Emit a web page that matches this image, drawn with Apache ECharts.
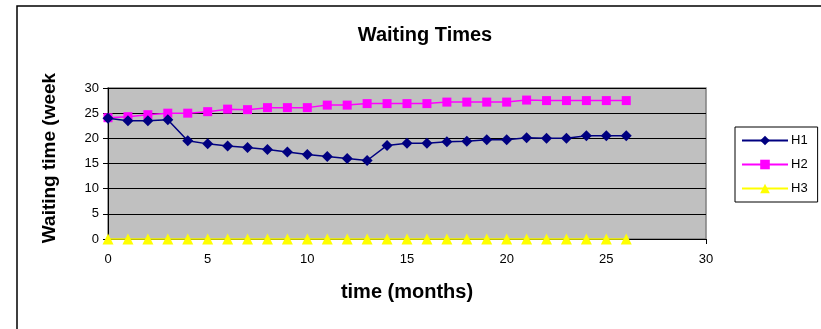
<!DOCTYPE html>
<html>
<head>
<meta charset="utf-8">
<script src="https://cdn.jsdelivr.net/npm/echarts@6/dist/echarts.min.js"></script>
<style>
  html, body { margin: 0; padding: 0; background: #fff; }
  #chart { width: 821px; height: 329px; }
</style>
</head>
<body>
<div id="chart"></div>
<script>
// Monthly waiting times (weeks) for three hospitals
const months = [0, 1, 2, 3, 4, 5, 6, 7, 8, 9, 10, 11, 12, 13, 14, 15, 16, 17, 18, 19, 20, 21, 22, 23, 24, 25, 26];
const h1 = [24.0, 23.5, 23.5, 23.7, 19.5, 18.9, 18.5, 18.2, 17.8, 17.3, 16.8, 16.4, 16.0, 15.6, 18.6, 19.0, 19.0, 19.3, 19.4, 19.7, 19.7, 20.1, 20.0, 20.0, 20.5, 20.5, 20.5];
const h2 = [24.1, 24.3, 24.7, 25.0, 25.0, 25.3, 25.8, 25.7, 26.1, 26.1, 26.1, 26.6, 26.6, 26.9, 26.9, 26.9, 26.9, 27.2, 27.2, 27.2, 27.2, 27.6, 27.5, 27.5, 27.5, 27.5, 27.5];
const h3 = [0, 0, 0, 0, 0, 0, 0, 0, 0, 0, 0, 0, 0, 0, 0, 0, 0, 0, 0, 0, 0, 0, 0, 0, 0, 0, 0];
const seriesNames = ['H1', 'H2', 'H3'];

const FONT = '"Liberation Sans", Arial, sans-serif';

function pairs(values) {
  return months.map((m, i) => [m, values[i]]);
}

const chart = echarts.init(document.getElementById('chart'), null, { renderer: 'canvas' });

chart.setOption({
  animation: false,
  backgroundColor: '#ffffff',
  textStyle: { fontFamily: FONT },
  title: {
    text: 'Waiting Times',
    left: 420,
    top: 20,
    textAlign: 'center',
    textStyle: { fontFamily: FONT, fontSize: 20, fontWeight: 'bold', color: '#000' }
  },
  legend: {
    orient: 'vertical',
    left: 735,
    top: 127,
    itemWidth: 46,
    itemHeight: 12,
    itemGap: 11,
    padding: [7, 10, 7, 6],
    borderColor: '#000',
    borderWidth: 1,
    backgroundColor: '#fff',
    textStyle: { fontFamily: FONT, fontSize: 13, color: '#000', padding: [0, 0, 0, -2] },
    data: seriesNames
  },
  grid: {
    show: true,
    left: 108,
    right: 115,
    top: 88,
    bottom: 90,
    backgroundColor: '#C0C0C0',
    borderColor: '#808080',
    borderWidth: 1.5
  },
  xAxis: {
    type: 'value',
    min: 0,
    max: 30,
    interval: 5,
    name: 'time (months)',
    nameLocation: 'middle',
    nameGap: 43,
    nameTextStyle: { fontFamily: FONT, fontSize: 20, fontWeight: 'bold', color: '#000' },
    axisLine: { show: true, lineStyle: { color: '#000', width: 1 } },
    axisTick: { show: true, inside: false, length: 5, lineStyle: { color: '#000' } },
    axisLabel: { fontFamily: FONT, fontSize: 13, color: '#000', margin: 14 },
    splitLine: { show: false }
  },
  yAxis: {
    type: 'value',
    min: 0,
    max: 30,
    interval: 5,
    axisLine: { show: true, lineStyle: { color: '#000', width: 1 } },
    axisTick: { show: true, inside: false, length: 5, lineStyle: { color: '#000' } },
    axisLabel: { fontFamily: FONT, fontSize: 13, color: '#000', margin: 9 },
    splitLine: { show: true, lineStyle: { color: '#000', width: 1 } }
  },
  series: [
    {
      name: 'H1',
      type: 'line',
      data: pairs(h1),
      symbol: 'diamond',
      symbolSize: 11,
      clip: false,
      z: 4,
      lineStyle: { color: '#000080', width: 1.5 },
      itemStyle: { color: '#000080' }
    },
    {
      name: 'H2',
      type: 'line',
      data: pairs(h2),
      symbol: 'rect',
      symbolSize: 9,
      clip: false,
      z: 3,
      lineStyle: { color: '#FF00FF', width: 1.5 },
      itemStyle: { color: '#FF00FF' }
    },
    {
      name: 'H3',
      type: 'line',
      data: pairs(h3),
      symbol: 'triangle',
      symbolSize: 11,
      clip: false,
      z: 2,
      lineStyle: { color: '#FFFF00', width: 1.5 },
      itemStyle: { color: '#FFFF00' }
    }
  ],
  graphic: [
    {
      type: 'text',
      x: 50,
      y: 158,
      rotation: Math.PI / 2,
      style: {
        text: 'Waiting time (week',
        fontFamily: FONT,
        fontSize: 19,
        fontWeight: 'bold',
        fill: '#000',
        textAlign: 'center',
        textVerticalAlign: 'middle'
      }
    },
    {
      type: 'polyline',
      shape: { points: [[17, 329], [17, 6], [821, 6]] },
      style: { stroke: '#000', lineWidth: 1.5, fill: null }
    }
  ]
});
</script>
</body>
</html>
